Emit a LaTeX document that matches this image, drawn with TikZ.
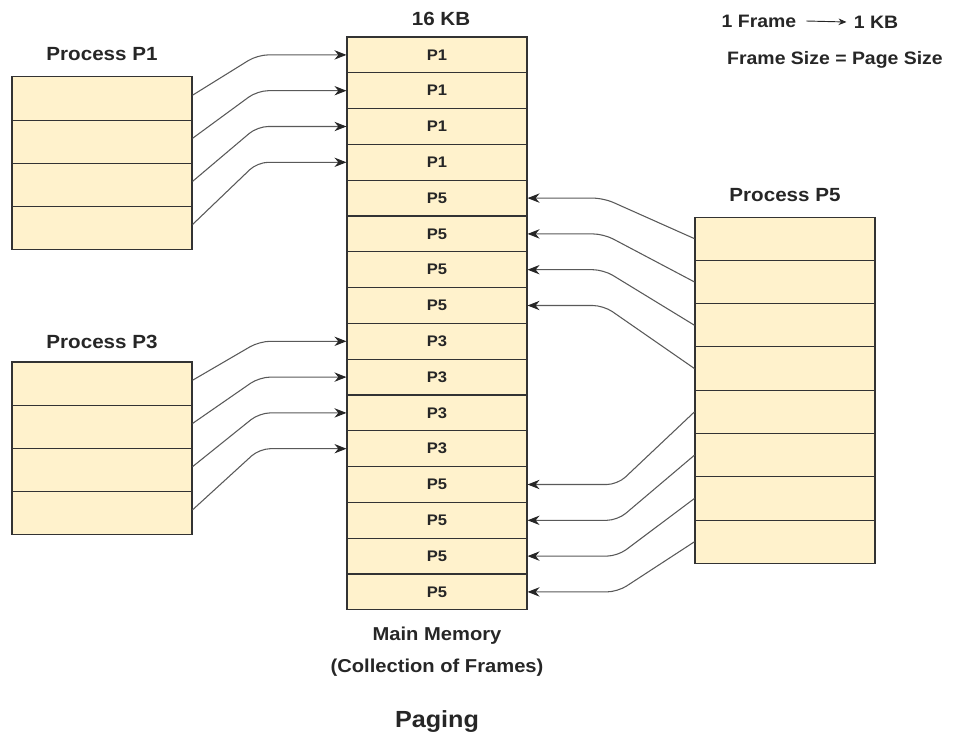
\documentclass[tikz,border=0pt]{standalone}
\usepackage{fontspec}
\setmainfont{Liberation Sans}[FakeStretch=1.08]
\usetikzlibrary{arrows.meta,calc}
\definecolor{pagefill}{HTML}{FFF2CC}

\begin{document}
\begin{tikzpicture}[
    x=0.75pt, y=-0.75pt,
    frame/.style={draw=black!80, fill=pagefill, line width=0.8pt, minimum width=135pt, minimum height=26.85pt, inner sep=0pt, font=\bfseries\fontsize{11.5}{13}\selectfont, text=black!85},
    page/.style={draw=black!80, fill=pagefill, line width=0.8pt, minimum width=135pt, minimum height=32.4pt, inner sep=0pt},
    title/.style={font=\bfseries\fontsize{14.3}{17}\selectfont, text=black!85},
    legend/.style={font=\bfseries\fontsize{13.5}{16}\selectfont, text=black!85},
    caption/.style={font=\bfseries\fontsize{14}{17}\selectfont, text=black!85},
    link/.style={draw=black!65, line width=0.8pt, rounded corners=8pt, -{Stealth[length=9pt,width=7pt,black!85]}}
    ]
    \useasboundingbox (0,0) rectangle (953,736);

    % Hauptspeicher
    \foreach \lab [count=\i] in {P1,P1,P1,P1,P5,P5,P5,P5,P3,P3,P3,P3,P5,P5,P5,P5}
        \node[frame] (m\i) at (437,{37+35.8*(\i-0.5)}) {\lab};
    \node[title] (size) at (441,19) {16 KB};

    % Prozesse
    \foreach \i in {1,...,4} {
        \node[page] (pone\i) at (102,{77+43.1*(\i-0.5)}) {};
        \node[page] (pthree\i) at (102,{362+43.2*(\i-0.5)}) {};
    }
    \foreach \i in {1,...,8}
        \node[page] (pfive\i) at (785,{217+43.3*(\i-0.5)}) {};
    \node[title] (tone) at (102,54) {Process P1};
    \node[title] (tthree) at (102,342) {Process P3};
    \node[title] (tfive) at (785,195) {Process P5};

    % Zuordnung der Seiten
    \foreach \i in {1,...,4} {
        \pgfmathtruncatemacro{\j}{\i+8}
        \draw[link] ([yshift=2.5pt]pone\i.east) -- ($(m\i.west)+(-89,0)$) -- (m\i.west);
        \draw[link] ([yshift=2.5pt]pthree\i.east) -- ($(m\j.west)+(-87,0)$) -- (m\j.west);
    }
    \foreach \i in {1,...,4} {
        \pgfmathtruncatemacro{\j}{\i+4}
        \draw[link] (pfive\i.west) -- ($(m\j.east)+(76,0)$) -- (m\j.east);
    }
    \foreach \i in {5,...,8} {
        \pgfmathtruncatemacro{\j}{\i+8}
        \draw[link] (pfive\i.west) -- ($(m\j.east)+(90,0)$) -- (m\j.east);
    }

    % Legende
    \node[legend] (lframe) at (759,21) {1 Frame};
    \node[legend] (lkb) at (876,22) {1 KB};
    \draw[black!85, line width=0.7pt, -{Stealth[length=6pt,width=5pt]}] ([xshift=4pt]lframe.east) -- ([xshift=-2pt]lkb.west);
    \node[legend] (rule) at (835,60) {Frame Size = Page Size};

    % Beschriftung
    \node[caption] (mm) at (437,636) {Main Memory};
    \node[caption] (coll) at (437,668) {(Collection of Frames)};
    \node[font=\bfseries\fontsize{17.5}{21}\selectfont, text=black!85] (paging) at (437,722) {Paging};

\end{tikzpicture}
\end{document}
